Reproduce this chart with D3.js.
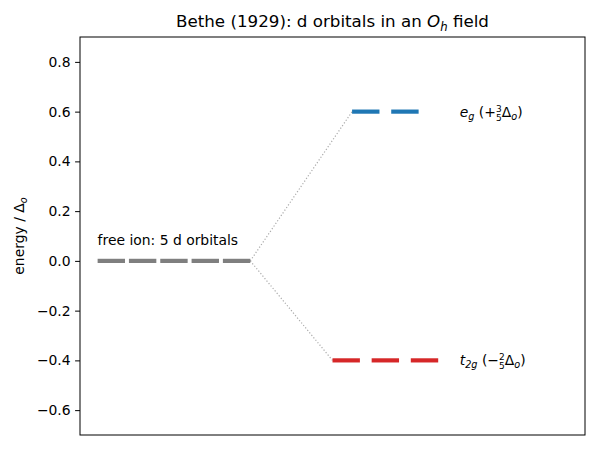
<!DOCTYPE html>
<html>
<head>
<meta charset="utf-8">
<script src="https://cdn.jsdelivr.net/npm/d3@7"></script>
<style>
  body { margin: 0; background: #fff; }
  text { font-family: "DejaVu Sans", sans-serif; fill: #000; }
</style>
</head>
<body>
<div id="graph"></div>
<script>
// niveles de energía (en unidades de Δo)
const freeIonX = [0, 0.8, 1.6, 2.4, 3.2];
const freeIonE = 0;
const egX = [6.5, 7.5];
const egE = 0.6;
const t2gX = [6, 7, 8];
const t2gE = -0.4;
const yTicks = [-0.6, -0.4, -0.2, 0.0, 0.2, 0.4, 0.6, 0.8];

const width = 600, height = 450;
const margin = {left: 80, right: 15, top: 37, bottom: 15};
const halfW = 0.35;
const fs = 13.9;

const svg = d3.select("#graph").append("svg")
    .attr("width", width)
    .attr("height", height);

const x = d3.scaleLinear().domain([-0.8, 12.1]).range([margin.left, width - margin.right]);
const y = d3.scaleLinear().domain([-0.7, 0.9]).range([height - margin.bottom, margin.top]);

// eje y
const yAxis = d3.axisLeft(y).tickValues(yTicks).tickSize(4.9).tickPadding(4.5)
    .tickFormat(d => d3.format(".1f")(d).replace("-", "\u2212"));
const gy = svg.append("g").attr("transform", `translate(${margin.left},0)`).call(yAxis);
gy.select(".domain").remove();
gy.selectAll("text").style("font-size", fs + "px").attr("font-family", "DejaVu Sans");
gy.selectAll("line").attr("stroke", "#000").attr("stroke-width", 1);

// líneas de correlación punteadas
const lastFree = d3.max(freeIonX) + halfW;
const conn = [
  [lastFree, freeIonE, d3.min(egX) - halfW, egE],
  [lastFree, freeIonE, d3.min(t2gX) - halfW, t2gE]
];
svg.selectAll("line.conn").data(conn).enter().append("line")
    .attr("class", "conn")
    .attr("x1", d => x(d[0])).attr("y1", d => y(d[1]))
    .attr("x2", d => x(d[2])).attr("y2", d => y(d[3]))
    .attr("stroke", "#aaaaaa").attr("stroke-width", 1.2)
    .attr("stroke-dasharray", "1.2,2");

// niveles
function niveles(xs, e, color) {
  svg.append("g").selectAll("line").data(xs).enter().append("line")
      .attr("x1", d => x(d - halfW)).attr("x2", d => x(d + halfW))
      .attr("y1", y(e)).attr("y2", y(e))
      .attr("stroke", color).attr("stroke-width", 4.2);
}
niveles(freeIonX, freeIonE, "#7f7f7f");
niveles(egX, egE, "#1f77b4");
niveles(t2gX, t2gE, "#d62728");

// etiquetas
svg.append("text")
    .attr("x", x(freeIonX[0] - halfW)).attr("y", y(0.05) - 3)
    .style("font-size", fs + "px")
    .text("free ion: 5 d orbitals");

function etiqueta(e, sym, sub, sign, num) {
  const t = svg.append("text")
      .attr("x", x(8.9)).attr("y", y(e) + 5)
      .style("font-size", fs + "px");
  t.append("tspan").style("font-style", "italic").text(sym);
  t.append("tspan").style("font-size", "9.7px").style("font-style", "italic").attr("dy", 3).text(sub);
  t.append("tspan").attr("dy", -3).text(" (" + sign);
  t.append("tspan").style("font-size", "9px").attr("dy", -5).text(num);
  t.append("tspan").style("font-size", "9px").attr("dx", -5.7).attr("dy", 9).text("5");
  t.append("tspan").attr("dy", -4).text("\u0394");
  t.append("tspan").style("font-size", "9.7px").style("font-style", "italic").attr("dy", 3).text("o");
  t.append("tspan").attr("dy", -3).text(")");
}
etiqueta(egE, "e", "g", "+", "3");
etiqueta(t2gE, "t", "2g", "\u2212", "2");

// marco
svg.append("rect")
    .attr("x", margin.left).attr("y", margin.top)
    .attr("width", width - margin.left - margin.right)
    .attr("height", height - margin.bottom - margin.top)
    .attr("fill", "none").attr("stroke", "#000").attr("stroke-width", 1);

// título
const title = svg.append("text")
    .attr("x", (margin.left + width - margin.right) / 2).attr("y", 27)
    .attr("text-anchor", "middle")
    .style("font-size", "16.7px");
title.append("tspan").text("Bethe (1929): d orbitals in an ");
title.append("tspan").style("font-style", "italic").text("O");
title.append("tspan").style("font-style", "italic").style("font-size", "11.7px").attr("dy", 3.5).text("h");
title.append("tspan").attr("dy", -3.5).text(" field");

// etiqueta del eje y
const yl = svg.append("text")
    .attr("transform", `translate(24,${(margin.top + height - margin.bottom) / 2}) rotate(-90)`)
    .attr("text-anchor", "middle")
    .style("font-size", fs + "px");
yl.append("tspan").text("energy / \u0394");
yl.append("tspan").style("font-style", "italic").style("font-size", "9.7px").attr("dy", 3).text("o");
</script>
</body>
</html>
